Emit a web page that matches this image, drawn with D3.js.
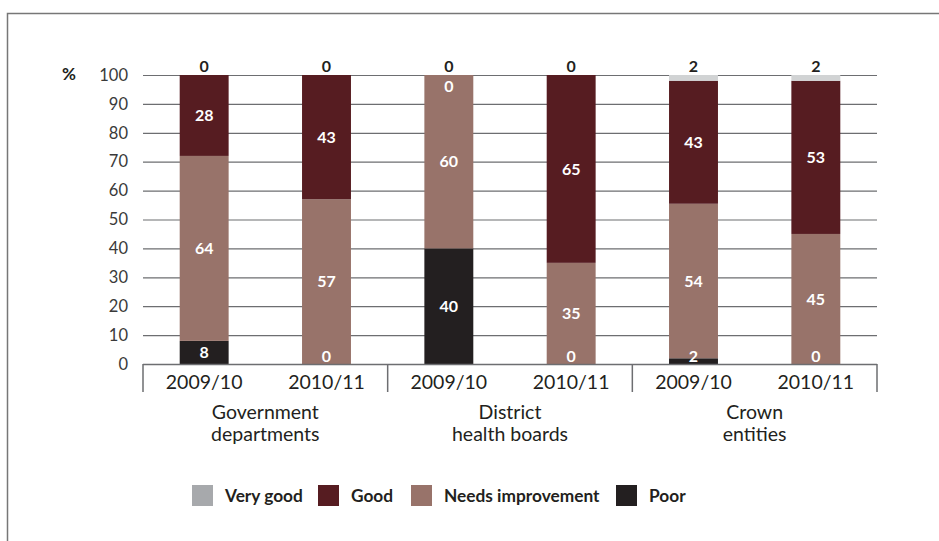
<!DOCTYPE html>
<html>
<head>
<meta charset="utf-8">
<script src="https://cdn.jsdelivr.net/npm/d3@7"></script>
<style>
  body { margin: 0; background: #fff; }
  svg { font-family: Lato, "Noto Sans", sans-serif; }
</style>
</head>
<body>
<svg width="939" height="541"></svg>
<script>
const groups = [['Government', 'departments'], ['District', 'health boards'], ['Crown', 'entities']];
const years = ['2009/10', '2010/11'];
const seriesNames = ['Poor', 'Needs improvement', 'Good', 'Very good'];

// one value per bar, in bar order (group by group, year by year)
const poor = [8, 0, 40, 0, 2, 0];
const needsImprovement = [64, 57, 60, 35, 54, 45];
const good = [28, 43, 0, 65, 43, 53];
const veryGood = [0, 0, 0, 0, 2, 2];

const yTicks = [0, 10, 20, 30, 40, 50, 60, 70, 80, 90, 100];

const barColors = ['#231f20', '#98736a', '#561c21', '#d1d3d4'];
const legendColors = ['#231f20', '#98736a', '#561c21', '#a7a9ac'];

const svg = d3.select('svg');
const margin = { top: 75, right: 62, bottom: 177, left: 143 };
const width = +svg.attr('width') - margin.left - margin.right;
const height = +svg.attr('height') - margin.top - margin.bottom;

// outer frame
svg.append('path')
  .attr('d', 'M7.5,545 V13.5 H945')
  .attr('fill', 'none')
  .attr('stroke', '#777')
  .attr('stroke-width', 1.5);

const bars = groups.flatMap((grp, gi) => years.map((yr, yi) => ({
  key: gi + '-' + yi, year: yr, i: gi * years.length + yi,
})));
bars.forEach((b) => {
  b.Poor = poor[b.i];
  b['Needs improvement'] = needsImprovement[b.i];
  b.Good = good[b.i];
  b['Very good'] = veryGood[b.i];
});

const x = d3.scaleBand()
  .domain(bars.map(b => b.key))
  .range([0, width])
  .paddingInner(0.6)
  .paddingOuter(0.3);

// rounded shares can add to 101, so each bar is scaled to 100%
const y = d3.scaleLinear()
  .domain([0, 1])
  .range([height, 0]);
const yPct = d3.scaleLinear()
  .domain([0, 100])
  .range([height, 0]);

const g = svg.append('g').attr('transform', `translate(${margin.left},${margin.top})`);

// gridlines
g.append('g')
  .selectAll('line')
  .data(yTicks)
  .join('line')
  .attr('x1', 0)
  .attr('x2', width)
  .attr('y1', d => yPct(d) + 0.5)
  .attr('y2', d => yPct(d) + 0.5)
  .attr('stroke', '#6d6e71')
  .attr('stroke-width', 1.2);

// y tick labels
g.append('g')
  .selectAll('text')
  .data(yTicks)
  .join('text')
  .attr('x', -15)
  .attr('y', d => yPct(d))
  .attr('dy', '0.35em')
  .attr('text-anchor', 'end')
  .attr('font-size', 16.5)
  .attr('fill', '#3a3a3a')
  .text(d => d);

g.append('text')
  .attr('x', -81)
  .attr('y', yPct(100))
  .attr('dy', '0.3em')
  .attr('font-size', 17)
  .attr('font-weight', 'bold')
  .attr('fill', '#231f20')
  .text('%');

// stacked bars
const stack = d3.stack()
  .keys(seriesNames)
  .offset(d3.stackOffsetExpand)(bars);

g.append('g')
  .selectAll('g')
  .data(stack)
  .join('g')
  .attr('fill', (d, i) => barColors[i])
  .selectAll('rect')
  .data(d => d)
  .join('rect')
  .attr('x', d => x(d.data.key))
  .attr('width', x.bandwidth())
  .attr('y', d => y(d[1]))
  .attr('height', d => y(d[0]) - y(d[1]));

// value labels inside bars (first three series)
const inner = stack.slice(0, 3).flatMap(s => s.map(d => ({ s: s.key, d })));
g.append('g')
  .selectAll('text')
  .data(inner)
  .join('text')
  .attr('x', ({ d }) => x(d.data.key) + x.bandwidth() / 2)
  .attr('y', ({ d }) => {
    const mid = (y(d[0]) + y(d[1])) / 2;
    return Math.max(y(1) + 11, Math.min(y(0) - 8, mid));
  })
  .attr('dy', '0.35em')
  .attr('text-anchor', 'middle')
  .attr('font-size', 16)
  .attr('font-weight', 'bold')
  .attr('fill', '#fff')
  .text(({ d, s }) => d.data[s]);

// very good labels above bars
g.append('g')
  .selectAll('text')
  .data(stack[3])
  .join('text')
  .attr('x', d => x(d.data.key) + x.bandwidth() / 2)
  .attr('y', y(1) - 3)
  .attr('text-anchor', 'middle')
  .attr('font-size', 16)
  .attr('font-weight', 'bold')
  .attr('fill', '#231f20')
  .text(d => d.data['Very good']);

// x axis line and separators
g.append('line')
  .attr('x1', 0).attr('x2', width)
  .attr('y1', height + 0.5).attr('y2', height + 0.5)
  .attr('stroke', '#6d6e71').attr('stroke-width', 1.5);

const groupWidth = width / groups.length;
g.append('g')
  .selectAll('line')
  .data(d3.range(groups.length + 1))
  .join('line')
  .attr('x1', d => d * groupWidth)
  .attr('x2', d => d * groupWidth)
  .attr('y1', height)
  .attr('y2', height + 28)
  .attr('stroke', '#6d6e71')
  .attr('stroke-width', 1.5);

g.append('g')
  .selectAll('text')
  .data(bars)
  .join('text')
  .attr('x', d => x(d.key) + x.bandwidth() / 2)
  .attr('y', height + 25)
  .attr('text-anchor', 'middle')
  .attr('font-size', 19.5)
  .attr('fill', '#231f20')
  .text(d => d.year);

// group labels, two lines each
const groupLines = groups.flatMap((lines, gi) => lines.map((t, li) => ({ t, gi, li })));
g.append('g')
  .selectAll('text')
  .data(groupLines)
  .join('text')
  .attr('x', d => (d.gi + 0.5) * groupWidth)
  .attr('y', d => height + 55 + d.li * 22)
  .attr('text-anchor', 'middle')
  .attr('font-size', 19.5)
  .attr('fill', '#231f20')
  .text(d => d.t);

// legend
const legendOrder = [3, 2, 1, 0];
const legendX = [192, 318, 411, 616];
const legend = svg.append('g')
  .selectAll('g')
  .data(legendOrder)
  .join('g')
  .attr('transform', (d, i) => `translate(${legendX[i]},485)`);
legend.append('rect')
  .attr('width', 21)
  .attr('height', 21)
  .attr('fill', d => legendColors[d]);
legend.append('text')
  .attr('x', 33)
  .attr('y', 10.5)
  .attr('dy', '0.36em')
  .attr('font-size', 17.3)
  .attr('font-weight', 'bold')
  .attr('fill', '#231f20')
  .text(d => seriesNames[d]);
</script>
</body>
</html>
